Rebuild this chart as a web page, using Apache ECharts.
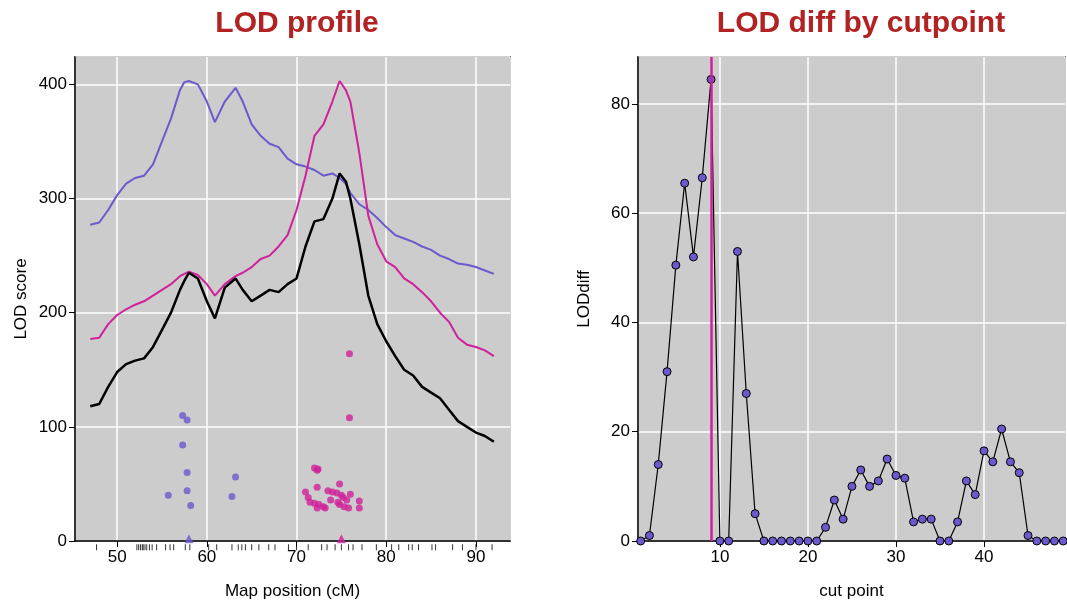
<!DOCTYPE html>
<html><head><meta charset="utf-8">
<script src="https://cdn.jsdelivr.net/npm/echarts@6/dist/echarts.min.js"></script>
<style>html,body{margin:0;padding:0;background:#fff}#c{width:1067px;height:610px}</style>
</head><body><div id="c"></div>
<script>
const posX = [47,48,49,50,51,52,53,54,55,56,57,57.5,58,59,60,60.9,62,63.2,64,65,66,67,68,69,70,71,72,73,74,74.8,75.5,76,77,78,79,80,81,82,83,84,85,86,87,88,89,90,91,92];
const lodPurple = [277,279,290,303,313,318,320,330,350,370,395,402,403,400,385,367,385,397,385,365,355,348,345,335,330,328,325,320,322,318,313,305,295,290,283,275,268,265,262,258,255,250,247,243,242,240,237,234];
const lodMagenta = [177,178,190,198,203,207,210,215,220,225,232,234,236,233,225,215,225,232,235,240,247,250,258,268,290,320,355,365,385,403,395,385,340,285,260,245,240,230,225,218,210,200,192,178,172,170,167,162];
const lodBlack = [118,120,135,148,155,158,160,170,185,200,220,228,235,230,210,195,222,230,220,210,215,220,218,225,230,258,280,282,300,322,315,300,260,215,190,175,162,150,145,135,130,125,115,105,100,95,92,87];
const ptsPurple = [[57.3,110],[57.8,106],[57.3,84],[57.8,60],[57.8,44],[55.7,40],[58.2,31],[63.2,56],[62.8,39]];
const ptsMagenta = [[75.9,164],[75.9,108],[72,64],[72.4,63],[72.3,62],[72.3,47],[71,43],[71.3,38],[71.5,34],[72,33],[72.5,32],[72.3,29],[73,30],[73.2,29],[73.5,44],[74,43],[73.8,36],[74.8,50],[74.5,42],[75,40],[75.2,38],[75.6,36],[74.8,32],[75.3,30],[75.8,29],[76,41],[77,35],[77,29],[74.6,34]];
const peakPurple = [[58,2]];
const peakMagenta = [[75,2]];
const rug = [47.7,52.2,52.4,52.6,52.8,52.9,53.1,53.3,53.6,53.9,54.4,55.4,55.9,56.3,57.6,58.1,60.2,61.1,62.8,63.5,63.9,64.3,65.0,65.8,66.9,67.6,69.1,70.0,71.3,72.8,73.4,74.3,75.0,75.8,76.3,77.3,78.9,80.6,81.4,82.5,82.9,83.6,85.1,85.5,87.4,88.5,90.0,91.8];
const cutPoints = [];
for (let i=1;i<=49;i++) cutPoints.push(i);
const lodDiff = [0,1,14,31,50.5,65.5,52,66.5,84.5,0,0,53,27,5,0,0,0,0,0,0,0,2.5,7.5,4,10,13,10,11,15,12,11.5,3.5,4,4,0,0,3.5,11,8.5,16.5,14.5,20.5,14.5,12.5,1,0,0,0,0];
const cutLine = 9;

const PUR='#6a5acd', MAG='#d0209a';
const F='Liberation Sans, Arial, sans-serif';
const ax = (name, gap) => ({
  name, nameLocation:'middle', nameGap:gap, nameTextStyle:{color:'#000',fontSize:17,fontFamily:F},
  axisLine:{show:true,onZero:false,lineStyle:{color:'#000',width:1.5}},
  axisTick:{show:true,length:6,lineStyle:{color:'#000'}},
  axisLabel:{color:'#000',fontSize:17,fontFamily:F},
  splitLine:{show:true,lineStyle:{color:'#fff',width:1.5}}
});
const chart = echarts.init(document.getElementById('c'));
const xy = (xs, ys) => xs.map((x,i)=>[x,ys[i]]);
chart.setOption({
  animation:false,
  title:[
    {text:'LOD profile',left:292,top:4,textAlign:'center',textStyle:{color:'#b22222',fontSize:30,fontWeight:'bold',fontFamily:F}},
    {text:'LOD diff by cutpoint',left:856,top:4,textAlign:'center',textStyle:{color:'#b22222',fontSize:30,fontWeight:'bold',fontFamily:F}}
  ],
  grid:[
    {left:75,right:557,top:57,bottom:69,show:true,backgroundColor:'#cccccc',borderColor:'#000',borderWidth:1.5},
    {left:638,right:2,top:57,bottom:69,show:true,backgroundColor:'#cccccc',borderColor:'#000',borderWidth:1.5}
  ],
  xAxis:[
    Object.assign(ax('Map position (cM)',42),{gridIndex:0,type:'value',min:45.3,max:93.8,axisLabel:{color:'#000',fontSize:17,fontFamily:F,showMinLabel:false,showMaxLabel:false,formatter:v=>v%10===0?v:''}}),
    Object.assign(ax('cut point',42),{gridIndex:1,type:'value',min:0.7,max:49.2,axisLabel:{color:'#000',fontSize:17,fontFamily:F,showMinLabel:false,showMaxLabel:false,formatter:v=>v%10===0?v:''}})
  ],
  yAxis:[
    Object.assign(ax('LOD score',45),{gridIndex:0,type:'value',min:0,max:424,interval:100,axisLabel:{color:'#000',fontSize:17,fontFamily:F,showMaxLabel:false,formatter:v=>v%100===0?v:''}}),
    Object.assign(ax('LODdiff',45),{gridIndex:1,type:'value',min:0,max:88.6,interval:20,axisLabel:{color:'#000',fontSize:17,fontFamily:F,showMaxLabel:false,formatter:v=>v%20===0?v:''}})
  ],
  series:[
    {type:'line',xAxisIndex:0,yAxisIndex:0,data:xy(posX,lodPurple),symbol:'none',lineStyle:{color:PUR,width:2}},
    {type:'line',xAxisIndex:0,yAxisIndex:0,data:xy(posX,lodMagenta),symbol:'none',lineStyle:{color:MAG,width:2}},
    {type:'line',xAxisIndex:0,yAxisIndex:0,data:xy(posX,lodBlack),symbol:'none',lineStyle:{color:'#000',width:2.5}},
    {type:'scatter',xAxisIndex:0,yAxisIndex:0,data:ptsPurple,symbolSize:7,itemStyle:{color:PUR}},
    {type:'scatter',xAxisIndex:0,yAxisIndex:0,data:ptsMagenta,symbolSize:7,itemStyle:{color:MAG}},
    {type:'scatter',xAxisIndex:0,yAxisIndex:0,data:peakPurple,symbol:'triangle',symbolSize:9,itemStyle:{color:PUR}},
    {type:'scatter',xAxisIndex:0,yAxisIndex:0,data:peakMagenta,symbol:'triangle',symbolSize:9,itemStyle:{color:MAG}},
    {type:'scatter',xAxisIndex:0,yAxisIndex:0,clip:false,data:rug.map(x=>[x,-5.5]),symbol:'rect',symbolSize:[1,6],itemStyle:{color:'#000'}},
    {type:'line',xAxisIndex:1,yAxisIndex:1,data:xy(cutPoints,lodDiff),symbol:'circle',symbolSize:8,
      lineStyle:{color:'#000',width:1.2},itemStyle:{color:PUR,borderColor:'#000',borderWidth:1},
      markLine:{silent:true,symbol:'none',label:{show:false},lineStyle:{color:MAG,width:2.5,type:'solid'},data:[{xAxis:cutLine}]}}
  ]
});
</script></body></html>
